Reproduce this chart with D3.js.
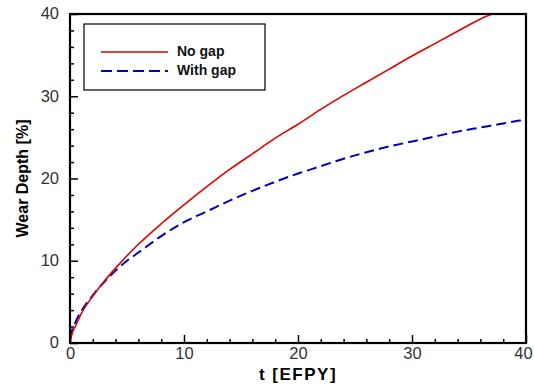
<!DOCTYPE html>
<html><head><meta charset="utf-8">
<script src="https://cdn.jsdelivr.net/npm/d3@7"></script>
<style>body{margin:0;background:#fff}svg{display:block}</style>
</head><body>
<script>
const tNoGap = [0,0.2,0.5,1,2,3,4,5,6,8,10,12,14,16,18,20,22,24,26,28,30,32,34,36,37];
const noGap  = [0,1.2,2.1,3.6,5.7,7.5,9.1,10.6,12.0,14.5,16.8,19.0,21.1,23.0,24.9,26.6,28.4,30.1,31.7,33.3,34.9,36.4,37.9,39.4,40.0];
const tGap   = [0,0.2,0.5,1,2,3,4,5,6,8,10,12,14,16,18,20,22,24,26,28,30,32,34,36,38,40];
const withGap= [0.6,1.6,2.6,3.9,5.8,7.4,8.8,10.0,11.0,13.0,14.7,16.0,17.3,18.5,19.6,20.6,21.5,22.4,23.2,23.9,24.5,25.1,25.7,26.2,26.7,27.2];
const xMajor = [0,10,20,30,40];
const yMajor = [0,10,20,30,40];
const legendLabels = ["No gap","With gap"];

const W=534,H=385;
const m={l:70,r:8,t:14,b:42};
const svg=d3.select("body").append("svg").attr("width",W).attr("height",H);
const x=d3.scaleLinear().domain([0,40]).range([m.l,W-m.r]);
const y=d3.scaleLinear().domain([0,40]).range([H-m.b,m.t]);
const font="Liberation Sans, Arial, sans-serif";

const g=svg.append("g");
const minor=d3.range(0,41,2).filter(v=>v%10!==0);
const xa=d3.axisBottom(x).tickValues(minor).tickSize(-4).tickFormat("");
const ya=d3.axisLeft(y).tickValues(minor).tickSize(-4).tickFormat("");
g.append("g").attr("transform",`translate(0,${y(0)})`).call(xa);
g.append("g").attr("transform",`translate(${x(0)},0)`).call(ya);
const xA=d3.axisBottom(x).tickValues(xMajor).tickSize(-8).tickPadding(4).tickFormat(d3.format("d"));
const yA=d3.axisLeft(y).tickValues(yMajor).tickSize(-8).tickPadding(11).tickFormat(d3.format("d"));
const gx=g.append("g").attr("transform",`translate(0,${y(0)})`).call(xA);
const gy=g.append("g").attr("transform",`translate(${x(0)},0)`).call(yA);
g.selectAll(".domain").remove();
g.selectAll(".tick line").attr("stroke","#000").attr("stroke-width",1.5);
g.selectAll(".tick text").attr("font-family",font).attr("font-size",16.5).attr("fill","#333");
gx.selectAll(".tick text").attr("dy","0.72em").attr("dx",d=>d===40?-3:0);
gy.selectAll(".tick text").attr("dy","0.3em");

const line=d3.line().x(d=>x(d[0])).y(d=>y(d[1])).curve(d3.curveMonotoneX);
svg.append("path").datum(tGap.map((t,i)=>[t,withGap[i]])).attr("d",line)
  .attr("fill","none").attr("stroke","#0000b8").attr("stroke-width",2).attr("stroke-dasharray","10,5");
svg.append("path").datum(tNoGap.map((t,i)=>[t,noGap[i]])).attr("d",line)
  .attr("fill","none").attr("stroke","#e00000").attr("stroke-width",1.6);

svg.append("rect").attr("x",x(0)).attr("y",y(40)).attr("width",x(40)-x(0)).attr("height",y(0)-y(40))
  .attr("fill","none").attr("stroke","#000").attr("stroke-width",2.2);

const lg=svg.append("g");
lg.append("rect").attr("x",84).attr("y",24).attr("width",181).attr("height",66).attr("fill","#fff").attr("stroke","#000").attr("stroke-width",1.2);
const styles=[{c:"#e00000",d:null,w:1.6},{c:"#0000b8",d:"11,5",w:2}];
legendLabels.forEach((lab,i)=>{
  const yy=52+i*19;
  lg.append("line").attr("x1",101).attr("x2",168).attr("y1",yy).attr("y2",yy)
    .attr("stroke",styles[i].c).attr("stroke-width",styles[i].w).attr("stroke-dasharray",styles[i].d);
  lg.append("text").attr("x",177).attr("y",yy+4).text(lab)
    .attr("font-family",font).attr("font-weight","bold").attr("font-size",14).attr("fill","#111");
});

svg.append("text").attr("x",(x(0)+x(40))/2).attr("y",380).attr("text-anchor","middle")
  .attr("font-family",font).attr("font-weight","bold").attr("font-size",17).attr("letter-spacing",1.5).text("t [EFPY]");
svg.append("text").attr("transform",`translate(28,${(y(0)+y(40))/2}) rotate(-90)`).attr("text-anchor","middle")
  .attr("font-family",font).attr("font-weight","bold").attr("font-size",16).text("Wear Depth [%]");
</script>
</body></html>
